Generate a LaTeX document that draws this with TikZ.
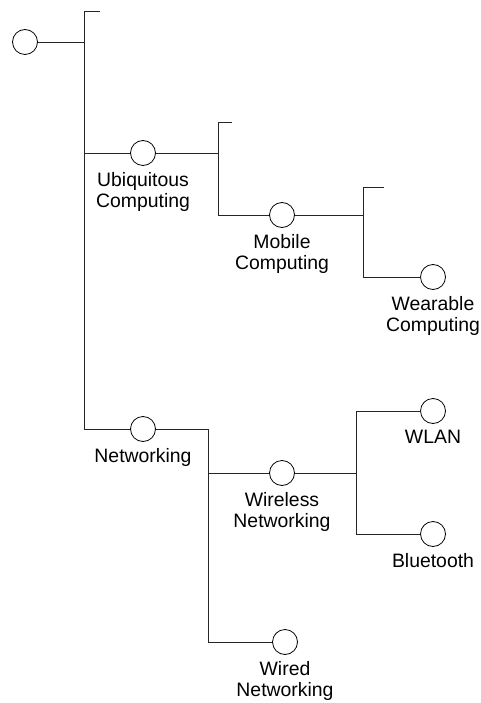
\documentclass[tikz,border=0pt]{standalone}
\usepackage{fontspec}
\setmainfont{Liberation Sans}
\begin{document}
\begin{tikzpicture}[x=1pt,y=-1pt,
  conn/.style={draw=black!85,line width=0.9pt},
  topic/.style={circle,draw=black,fill=white,line width=0.8pt,minimum size=25pt,inner sep=0pt},
  caption/.style={anchor=north,inner sep=0pt,align=center,font=\fontsize{19.4}{21.5}\selectfont}]
\useasboundingbox (0,0) rectangle (481,703);

% topic circles
\node[topic] (root) at (25,42) {};
\node[topic] (ubi) at (143,153) {};
\node[topic] (mob) at (282,215) {};
\node[topic] (wear) at (433,277) {};
\node[topic] (net) at (143,429) {};
\node[topic] (wless) at (282,473) {};
\node[topic] (wlan) at (433,411) {};
\node[topic] (bt) at (433,534) {};
\node[topic] (wired) at (285,642) {};

% branch points
\coordinate (t0) at (100,11);   \coordinate (b0) at (84,11);
\coordinate (j0) at (84,42);    \coordinate (j1) at (84,153);
\coordinate (j2) at (84,429);
\coordinate (t1) at (232,122);  \coordinate (b1) at (218,122);
\coordinate (k1) at (218,153);  \coordinate (k2) at (218,215);
\coordinate (t2) at (384,187);  \coordinate (b2) at (363,187);
\coordinate (m1) at (363,215);  \coordinate (m2) at (363,277);
\coordinate (n1) at (208,429);  \coordinate (n2) at (208,473);
\coordinate (n3) at (208,642);
\coordinate (w1) at (356,473);  \coordinate (w2) at (356,411);
\coordinate (w3) at (356,534);

% connectors
\draw[conn] (t0) -- (b0) -- (j2);
\draw[conn] (root) -- (j0);
\draw[conn] (j1) -- (ubi) -- (k1);
\draw[conn] (t1) -- (b1) -- (k2);
\draw[conn] (k2) -- (mob) -- (m1);
\draw[conn] (t2) -- (b2) -- (m2);
\draw[conn] (m2) -- (wear);
\draw[conn] (j2) -- (net) -- (n1) -- (n3);
\draw[conn] (n2) -- (wless) -- (w1);
\draw[conn] (w2) -- (w3);
\draw[conn] (w2) -- (wlan);
\draw[conn] (w3) -- (bt);
\draw[conn] (n3) -- (wired);

% captions
\node[caption] (lubi) at ([yshift=-6pt]ubi.south) {Ubiquitous\\Computing};
\node[caption] (lmob) at ([yshift=-6pt]mob.south) {Mobile\\Computing};
\node[caption] (lwear) at ([yshift=-6pt]wear.south) {Wearable\\Computing};
\node[caption] (lnet) at ([yshift=-6pt]net.south) {Networking};
\node[caption] (lwless) at ([yshift=-6pt]wless.south) {Wireless\\Networking};
\node[caption] (lwlan) at ([yshift=-6pt]wlan.south) {WLAN};
\node[caption] (lbt) at ([yshift=-6pt]bt.south) {Bluetooth};
\node[caption] (lwired) at ([yshift=-6pt]wired.south) {Wired\\Networking};
\end{tikzpicture}
\end{document}
